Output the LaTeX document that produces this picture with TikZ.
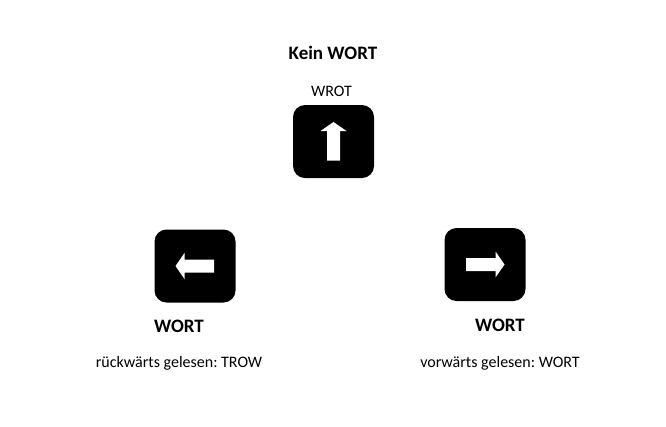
\documentclass[tikz,border=0pt]{standalone}
\usepackage{fontspec}
\setmainfont{Carlito}
\usepackage{tikz}
\usetikzlibrary{positioning}
\frenchspacing
\newcommand{\pfeil}[2]{%
  \fill[white,shift={(#1)},rotate=#2]
    (-19,-6.5) -- (10.5,-6.5) -- (10.5,-13) -- (19.5,0)
    -- (10.5,13) -- (10.5,6.5) -- (-19,6.5) -- cycle;}
\begin{document}
\begin{tikzpicture}[
    x=0.75pt,
    y=-0.75pt,
    on grid,
    taste/.style={fill=black, rounded corners=9pt, minimum width=60.75pt,
      minimum height=54.75pt, inner sep=0pt},
    fett/.style={font=\fontsize{14.25}{17}\selectfont\bfseries, inner sep=0pt},
    normal/.style={font=\fontsize{12}{14.5}\selectfont, inner sep=0pt}]
       \useasboundingbox (0,0) rectangle (666,426);
       \node[taste] (oben) at (333.5,141.5) {};
       \node[taste] (links) at (195,266) {};
       \node[taste] (rechts) at (485,264.5) {};
       \pfeil{oben.center}{90}
       \pfeil{links.center}{180}
       \pfeil{rechts.center}{0}
       \node[normal] (wrot) [above left=37.3pt and 1.5pt of oben] {WROT};
       \node[fett] (keinwort) [above right=28.8pt and 1.1pt of wrot] {Kein WORT};
       \node[fett] (wortlinks) [below left=44.9pt and 12pt of links] {WORT};
       \node[normal] (lesenlinks) [below=27.8pt of wortlinks] {rückwärts gelesen: TROW};
       \node[fett] (wortrechts) [below right=45.75pt and 11.25pt of rechts] {WORT};
       \node[normal] (lesenrechts) [below=28pt of wortrechts] {vorwärts gelesen: WORT};
\end{tikzpicture}
\end{document}
